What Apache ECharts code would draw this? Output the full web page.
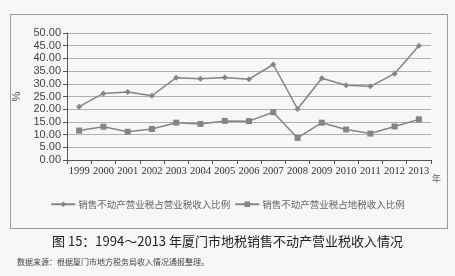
<!DOCTYPE html>
<html><head><meta charset="utf-8">
<script src="https://cdn.jsdelivr.net/npm/echarts@6/dist/echarts.min.js"></script>
<style>html,body{margin:0;padding:0;background:#f7f7f5;}#c{width:455px;height:276px;}
#frame{position:absolute;left:10px;top:14px;width:436px;height:213px;border:1px solid #9a9a9a;pointer-events:none;}</style>
</head><body><div id="c"></div><div id="frame"></div>
<script>
var years = ['1999','2000','2001','2002','2003','2004','2005','2006','2007','2008','2009','2010','2011','2012','2013'];
var shareOfBusinessTax = [21.0, 26.2, 26.8, 25.3, 32.4, 32.0, 32.5, 31.8, 37.6, 20.1, 32.2, 29.4, 29.0, 34.0, 45.0];
var shareOfLocalTax = [11.6, 13.1, 11.1, 12.2, 14.7, 14.2, 15.4, 15.3, 18.8, 8.7, 14.7, 12.0, 10.4, 13.2, 16.0];
var seriesNames = ['销售不动产营业税占营业税收入比例', '销售不动产营业税占地税收入比例'];
var titleText = '图 15：1994～2013 年厦门市地税销售不动产营业税收入情况';
var sourceText = '数据来源：根据厦门市地方税务局收入情况通报整理。';

var chart = echarts.init(document.getElementById('c'), null, {renderer:'canvas'});
var gray = '#858585';
chart.setOption({
  backgroundColor: '#f7f7f5',
  animation: false,
  grid: {left: 67, right: 24, top: 33, bottom: 116},
  xAxis: {
    type: 'category', data: years, boundaryGap: true,
    axisLine: {lineStyle: {color: '#555', width: 1}},
    axisTick: {show: true, length: 4, lineStyle: {color: '#555'}},
    axisLabel: {color: '#333', fontFamily: '"Liberation Serif", "DejaVu Serif", serif', fontSize: 10.5, margin: 6, interval: 0}
  },
  yAxis: {
    type: 'value', min: 0, max: 50, interval: 5,
    name: '%', nameLocation: 'middle', nameGap: 34, nameRotate: 90,
    nameTextStyle: {color: '#444', fontSize: 11, fontFamily: 'Liberation Sans'},
    axisLine: {show: true, lineStyle: {color: '#555'}},
    axisTick: {show: true, length: 4, lineStyle: {color: '#555'}},
    axisLabel: {color: '#444', fontFamily: '"Liberation Sans Narrow", "Liberation Sans"', fontSize: 11, margin: 6,
      formatter: function(v){ return v.toFixed(2); }},
    splitLine: {lineStyle: {color: '#b0b0b0', width: 1}}
  },
  legend: {
    bottom: 62, left: 'center', itemGap: 4, itemWidth: 24, itemHeight: 7,
    textStyle: {color: '#666', fontSize: 9.5, fontFamily: 'Noto Sans CJK SC', padding: [0, 0, 0, -2]},
    data: seriesNames
  },
  series: [
    {name: seriesNames[0], type: 'line', data: shareOfBusinessTax, symbol: 'diamond', symbolSize: 6,
     lineStyle: {color: gray, width: 1.5}, itemStyle: {color: gray}},
    {name: seriesNames[1], type: 'line', data: shareOfLocalTax, symbol: 'rect', symbolSize: 6,
     lineStyle: {color: gray, width: 1.5}, itemStyle: {color: gray}}
  ],
  graphic: {
    elements: [
      {type: 'text', left: 432, top: 174, style: {text: '年', fill: '#666', fontSize: 9, fontFamily: 'Noto Sans CJK SC'}},
      {type: 'text', left: 'center', top: 235, style: {text: titleText, fill: '#222', fontSize: 13, fontFamily: 'Noto Sans CJK SC'}},
      {type: 'text', left: 17, top: 258, style: {text: sourceText, fill: '#444', fontSize: 8, fontFamily: 'Noto Sans CJK SC'}}
    ]
  }
});
</script></body></html>
